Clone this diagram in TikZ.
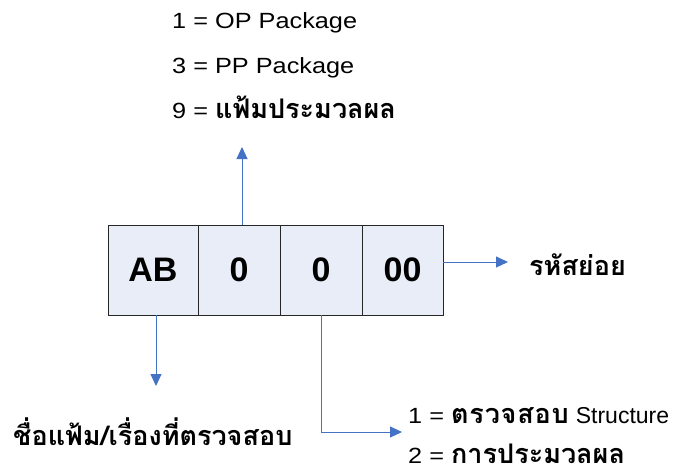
\documentclass[tikz,border=0pt]{standalone}
\usepackage{fontspec}
\setmainfont{Liberation Sans}
\newfontfamily\labelfont{Liberation Sans}[FakeStretch=1.15]
\newfontfamily\thaifont[Script=Thai]{Loma}
\usetikzlibrary{positioning,arrows.meta}
\definecolor{codefill}{HTML}{E8EDF7}
\definecolor{linkblue}{HTML}{4472C4}
\tikzset{code box/.style={draw=black!85,fill=codefill,line width=1pt,minimum height=90pt,inner sep=0pt,outer sep=0pt,font=\fontsize{34}{34}\selectfont\bfseries},
  link/.style={draw=linkblue,line width=.9pt,-{Triangle[length=12pt,width=11pt]}},
  label text/.style={anchor=base west,inner sep=0pt,font=\labelfont\fontsize{22}{22}\selectfont},}
\newcommand{\thb}[1]{{\thaifont\fontsize{27}{27}\selectfont\bfseries #1}}

\begin{document}
\begin{tikzpicture}[x=1pt,y=-1pt]
    \useasboundingbox (0,0) rectangle (674,474);
    % code boxes
    \node[code box,minimum width=90pt,anchor=north west] (ab) at (108,225) {AB};
    \node[code box,minimum width=82pt] (type) [right=0pt of ab] {0};
    \node[code box,minimum width=82pt] (kind) [right=0pt of type] {0};
    \node[code box,minimum width=81pt] (sub) [right=0pt of kind] {00};

    % labels
    \node[label text] (op) at (172,28) {1 = OP Package};
    \node[label text] (pp) at (172,73) {3 = PP Package};
    \node[label text] (proc) at (172,118) {9 = \thb{แฟ้มประมวลผล}};
    \node[label text] (subname) at (529,275) {\thb{รหัสย่อย}};
    \node[label text] (file) at (13,445) {\thb{ชื่อแฟ้ม/เรื่องที่ตรวจสอบ}};
    \node[label text] (chk) at (408,423) {1 = \thb{\addfontfeature{LetterSpace=3}ตรวจสอบ} {\normalfont\fontsize{23}{23}\selectfont Structure}};
    \node[label text] (run) at (408,463) {2 = \thb{การประมวลผล}};

    \coordinate (uptip) at (242,147);
    \coordinate (subtip) at (508,262);
    \coordinate (abtip) at (156,386);
    \coordinate (kindtip) at (402,432);

    \draw[link] (uptip |- type.north) -- (uptip);
    \draw[link] (subtip -| sub.east) -- (subtip);
    \draw[link] (abtip |- ab.south) -- (abtip);
    \draw[link] (kind.south) |- (kindtip);
\end{tikzpicture}
\end{document}
